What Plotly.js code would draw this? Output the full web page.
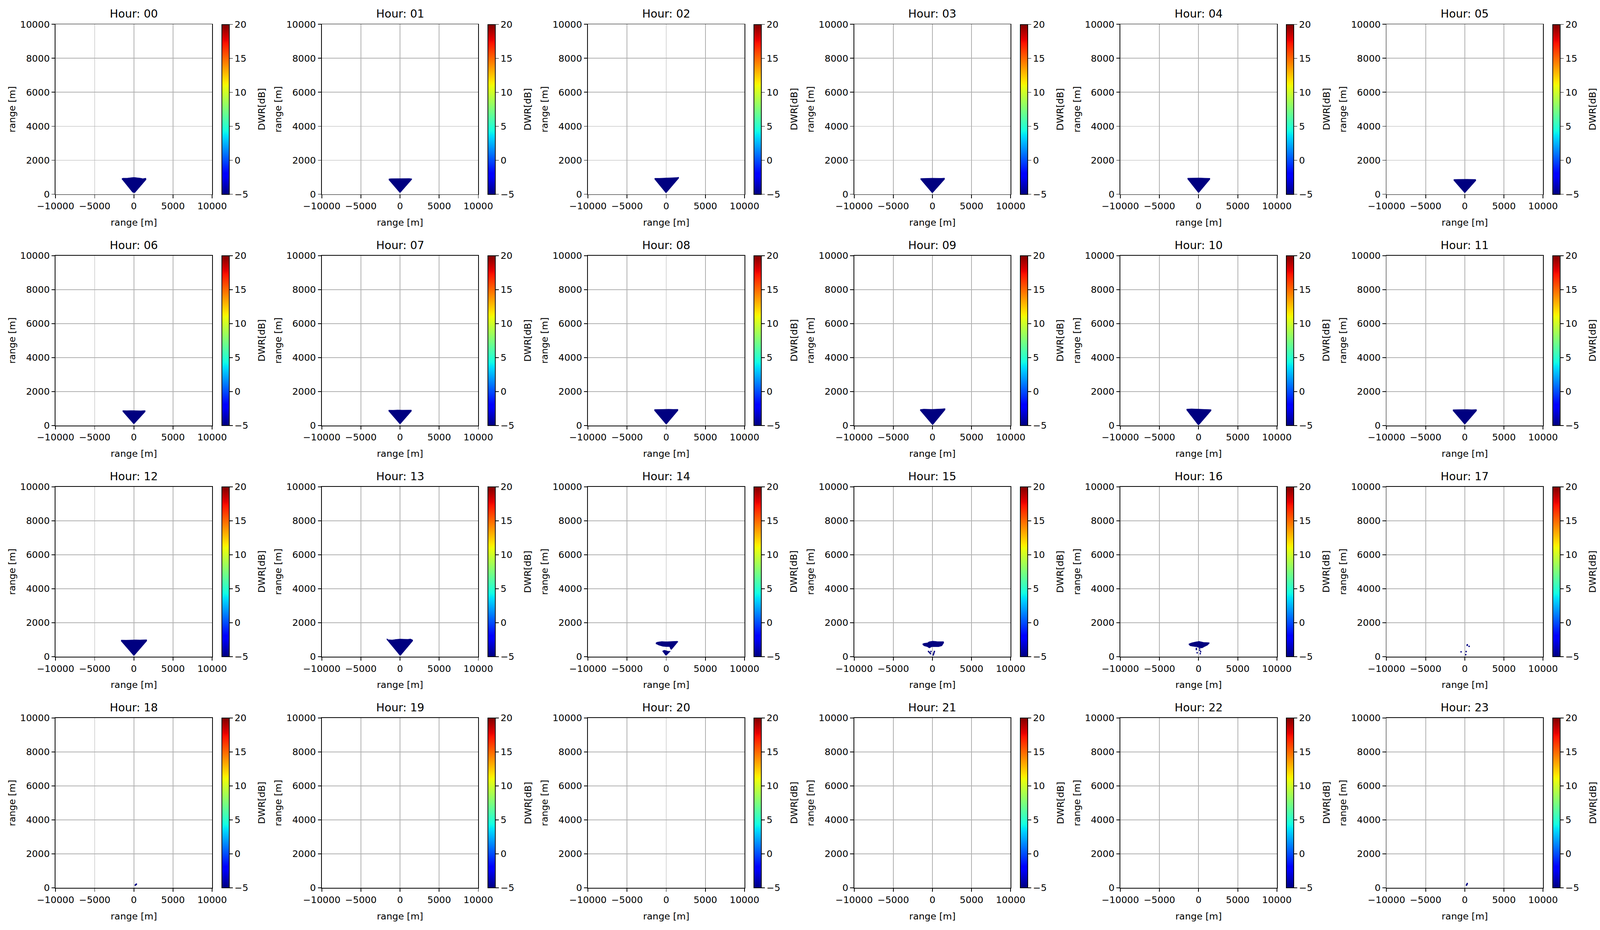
<!DOCTYPE html>
<html><head><meta charset="utf-8">
<script src="https://cdn.plot.ly/plotly-3.0.1.min.js"></script>
<style>html,body{margin:0;padding:0;background:#fff;overflow:hidden}#chart{position:absolute;left:0;top:0}</style>
</head><body><div id="chart"></div><script>
// ---------------- data ----------------
const hourLabels = ['00','01','02','03','04','05','06','07','08','09','10','11',
                    '12','13','14','15','16','17','18','19','20','21','22','23'];
const xTickVals = [-10000, -5000, 0, 5000, 10000];
const xTickText = ['\u221210000', '\u22125000', '0', '5000', '10000'];
const yTickVals = [0, 2000, 4000, 6000, 8000, 10000];
const yTickText = ['0', '2000', '4000', '6000', '8000', '10000'];
const cbTickVals = [-5, 0, 5, 10, 15, 20];
const cbTickText = ['\u22125', '0', '5', '10', '15', '20'];
const dwrMin = -5, dwrMax = 20;

// echo regions (outline of the filled area, metres); null separates pieces
const echoX = [
  [-1530,-1520,-1400,-1100,-850,-600,-430,-200,0,300,570,850,1140,1350,1540,1570,130,60,0,-90,-180],
  [-1420,-1420,-1100,-600,-80,500,1210,1520,1470,60,-30,-120],
  [-1470,-1470,-900,-400,0,500,900,1300,1600,1600,20,-80],
  [-1500,-1500,-1000,-500,0,600,1100,1550,1560,40,-60],
  [-1400,-1400,-900,-300,200,800,1300,1450,1440,40,-60],
  [-1400,-1400,-900,-300,300,900,1400,1420,40,-50],
  [-1420,-1420,-900,-300,300,900,1450,1460,40,-50],
  [-1450,-1450,-900,-300,300,900,1450,1460,40,-50],
  [-1500,-1500,-900,-300,300,900,1500,1510,40,-50],
  [-1548,-1548,-1110,-500,-77,400,955,1300,1625,1625,52,-30],
  [-1522,-1522,-903,-400,129,600,1161,1600,1600,20,-77],
  [-1500,-1500,-900,-300,300,900,1500,1510,40,-50],
  [-1620,-1620,-1000,-400,200,800,1400,1650,1650,50,-50],
  [-1690,-1680,-1500,-1000,-500,0,500,1000,1350,1620,1620,80,-40],
  [-1312,-1312,-1141,-570,0,713,1426,1511,684,570,428,0,-428,-998,null,
   -499,-285,-28,214,542,0,-114],
  [-1257,-1072,-643,-429,71,643,1429,1457,1215,786,357,-71,-400,-643,-1072,-1257],
  [-1257,-929,-429,71,643,1357,1386,1143,786,429,0,-286,-572,-1072,-1257],
  [], [], [], [], [], [], []
];
const echoY = [
  [880,925,950,945,950,965,980,985,995,985,975,950,920,930,950,860,90,110,70,120,110],
  [830,905,920,925,928,925,928,905,850,110,100,130],
  [865,942,942,950,957,965,973,985,1003,942,90,84],
  [860,930,935,945,950,945,940,955,880,90,80],
  [880,950,955,965,960,950,945,940,870,100,95],
  [800,870,880,890,885,880,875,800,90,85],
  [810,880,870,880,870,865,880,810,95,90],
  [830,905,900,915,905,900,910,840,90,85],
  [860,940,945,960,960,950,955,880,80,75],
  [865,942,965,955,950,960,965,980,996,919,38,45],
  [888,965,980,970,965,955,942,934,865,23,30],
  [850,930,935,945,940,930,940,860,80,75],
  [900,980,975,985,990,985,990,1000,920,70,65],
  [990,1060,1000,985,1020,1040,1030,1025,1045,985,920,80,75],
  [743,820,858,896,881,896,912,881,421,437,590,590,605,682,null,
   322,383,360,322,322,69,92],
  [751,789,812,881,919,889,889,812,636,582,582,582,506,582,636,712],
  [751,812,866,904,843,827,789,674,597,506,544,582,597,636,712],
  [], [], [], [], [], [], []
];
// scattered single gates (metres)
const dotX = [
  [],[],[],[],[],[],[],[],[],[],[],[],[],[],[],
  [-500,-400,-300,-243,-186,257,200,150,114],
  [-286,-286,143,143,257,-186,214],
  [300,330,552,-473,173,126],
  [185,250,320],
  [],[],[],[],
  [220,268,315]
];
const dotY = [
  [],[],[],[],[],[],[],[],[],[],[],[],[],[],[],
  [306,260,215,176,306,306,230,160,100],
  [483,420,483,380,291,230,176],
  [668,700,607,284,300,115],
  [160,190,220],
  [],[],[],[],
  [160,205,253]
];
// DWR of the echoes (all at or below the bottom of the colour scale)
const echoDWR = [-5,-5,-5,-5,-5,-5,-5,-5,-5,-5,-5,-5,-5,-5,-5,-5,-5,-5,-5,-5,-5,-5,-5,-5];

// matplotlib "jet"
const jetScale = [
  [0, 'rgb(0,0,128)'], [0.11, 'rgb(0,0,255)'], [0.125, 'rgb(0,0,255)'],
  [0.34, 'rgb(0,219,255)'], [0.35, 'rgb(0,230,247)'], [0.375, 'rgb(21,255,226)'],
  [0.64, 'rgb(239,255,8)'], [0.65, 'rgb(247,246,0)'], [0.66, 'rgb(255,236,0)'],
  [0.89, 'rgb(255,19,0)'], [0.91, 'rgb(232,0,0)'], [1, 'rgb(128,0,0)']
];
function scaleColor(v) {
  let t = (v - dwrMin) / (dwrMax - dwrMin);
  t = Math.max(0, Math.min(1, t));
  for (let i = 1; i < jetScale.length; i++) {
    if (t <= jetScale[i][0]) {
      const a = jetScale[i-1], b = jetScale[i];
      const ca = a[1].match(/\d+/g).map(Number), cb = b[1].match(/\d+/g).map(Number);
      const f = (b[0] - a[0]) ? (t - a[0]) / (b[0] - a[0]) : 0;
      return 'rgb(' + ca.map((c, k) => Math.round(c + f * (cb[k] - c))).join(',') + ')';
    }
  }
  return jetScale[jetScale.length-1][1];
}

// ---------------- layout (reference geometry 4779 x 2382) ----------------
const REFW = 4779, REFH = 2382;
const W = window.innerWidth || REFW, H = window.innerHeight || REFH;
const s = W / REFW, sy = H / REFH;
document.getElementById('chart').style.width = W + 'px';
document.getElementById('chart').style.height = H + 'px';
const FONT = 'DejaVu Sans, Liberation Sans, sans-serif';
const fs = 27.8 * s, fsTitle = 33.3 * s, lw = 2.2 * s, tl = 9.7 * s;
const plotW = 467.6 / REFW, plotH = 435.1 / REFH;          // fractions
const colPitch = 795.06 / REFW, rowPitch = 592.2 / REFH;
const left0 = 166 / REFW, top0 = 62.4 / REFH;
const txt = {family: FONT, size: fs, color: '#000000'};

const traces = [];
const layout = {
  width: W, height: H,
  margin: {l: 0, r: 0, t: 0, b: 0, autoexpand: false},
  paper_bgcolor: '#ffffff', plot_bgcolor: '#ffffff',
  showlegend: false,
  font: txt,
  annotations: []
};

hourLabels.forEach((h, i) => {
  const r = Math.floor(i / 6), c = i % 6;
  const xl = left0 + c * colPitch, xr = xl + plotW;
  const yt = top0 + r * rowPitch, yb = yt + plotH;
  const sfx = i === 0 ? '' : String(i + 1);
  const xa = 'x' + sfx, ya = 'y' + sfx;
  const col = scaleColor(echoDWR[i]);
  const hasDots = dotX[i].length > 0;

  traces.push({
    type: 'scatter', mode: 'lines', x: echoX[i], y: echoY[i],
    xaxis: xa, yaxis: ya, fill: 'toself', fillcolor: col,
    line: {color: col, width: 1 * s}, connectgaps: false, hoverinfo: 'skip'
  });
  traces.push({
    type: 'scatter', mode: 'markers',
    x: hasDots ? dotX[i] : [null], y: hasDots ? dotY[i] : [null],
    xaxis: xa, yaxis: ya, hoverinfo: 'skip', cliponaxis: true,
    marker: {
      symbol: 'square', size: 4 * s,
      color: (hasDots ? dotX[i] : [null]).map(() => echoDWR[i]),
      colorscale: jetScale, cmin: dwrMin, cmax: dwrMax, showscale: true,
      colorbar: {
        x: xr + 28.6 / REFW, xanchor: 'left', xref: 'paper',
        y: 1 - yb, yanchor: 'bottom', yref: 'paper',
        len: plotH, lenmode: 'fraction',
        thickness: 22.5 * s, thicknessmode: 'pixels',
        xpad: 0, ypad: 0,
        outlinewidth: lw, outlinecolor: '#000000',
        ticks: 'outside', ticklen: tl, tickwidth: lw, tickcolor: '#000000',
        tickmode: 'array', tickvals: cbTickVals, ticktext: cbTickText,
        tickprefix: '\u2005',
        tickfont: txt,
        title: {text: ''}
      }
    }
  });

  const axCommon = {
    showline: true, mirror: true, linecolor: '#000000', linewidth: lw,
    ticks: 'outside', ticklen: tl, tickwidth: lw, tickcolor: '#000000',
    showgrid: true, gridcolor: '#b0b0b0', gridwidth: lw, zeroline: false,
    tickfont: txt, tickmode: 'array', fixedrange: true, ticklabelstandoff: 8 * s
  };
  layout['xaxis' + sfx] = Object.assign({}, axCommon, {
    domain: [xl, xr], anchor: ya, range: [-10000, 10000],
    tickvals: xTickVals, ticktext: xTickText,
    title: {text: 'range [m]', standoff: 20 * sy, font: txt}
  });
  layout['yaxis' + sfx] = Object.assign({}, axCommon, {
    domain: [1 - yb, 1 - yt], anchor: xa, range: [0, 10000],
    tickvals: yTickVals, ticktext: yTickText,
    title: {text: 'range [m]', standoff: 6 * s, font: txt}
  });
  layout.annotations.push({
    text: 'Hour: ' + h, xref: 'paper', yref: 'paper',
    x: xl + plotW / 2, y: 1 - yt, xanchor: 'center', yanchor: 'bottom',
    yshift: 8 * sy, showarrow: false,
    font: {family: FONT, size: fsTitle, color: '#000000'}
  });
  layout.annotations.push({
    text: 'DWR[dB]', xref: 'paper', yref: 'paper', textangle: -90,
    x: xr + 148 / REFW, y: 1 - (yt + yb) / 2, xanchor: 'center', yanchor: 'middle',
    showarrow: false, font: txt
  });
});

Plotly.newPlot('chart', traces, layout, {staticPlot: true, displayModeBar: false});
</script></body></html>
